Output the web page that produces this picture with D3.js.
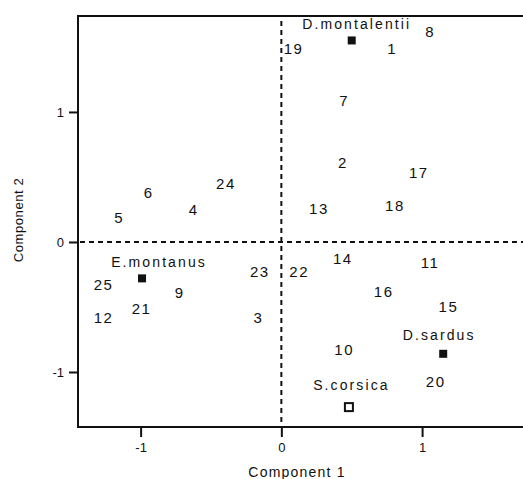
<!DOCTYPE html>
<html><head><meta charset="utf-8">
<script src="https://cdn.jsdelivr.net/npm/d3@7"></script>
<style>body{margin:0;background:#fff}svg{display:block}text{font-family:"Liberation Sans",Arial,sans-serif;fill:#111}</style>
</head><body>
<svg id="c" width="523" height="479"></svg>
<script>
// Case labels (numbers) with component scores
const caseLabels = ["1","2","3","4","5","6","7","8","9","10","11","12","13","14","15","16","17","18","19","20","21","22","23","24","25"];
const comp1 = [0.78,0.43,-0.17,-0.63,-1.16,-0.95,0.44,1.05,-0.73,0.44,1.05,-1.27,0.26,0.43,1.18,0.72,0.97,0.80,0.08,1.09,-1.00,0.12,-0.16,-0.40,-1.27];
const comp2 = [1.49,0.61,-0.58,0.25,0.19,0.38,1.09,1.62,-0.39,-0.83,-0.16,-0.58,0.26,-0.13,-0.50,-0.38,0.53,0.28,1.49,-1.07,-0.51,-0.23,-0.23,0.45,-0.33];
// Species centroids
const species = ["D.montalentii","E.montanus","D.sardus","S.corsica"];
const spX = [0.50,-0.99,1.15,0.48];
const spY = [1.55,-0.28,-0.86,-1.27];
const spFilled = [true,true,true,false];
const xTicks = [-1,0,1];
const yTicks = [-1,0,1];

const svg = d3.select("#c");
const L=78, T=16, B=427, R=560;
const x = d3.scaleLinear().domain([-1.445,1.98]).range([L,R]);
const y = d3.scaleLinear().domain([-1.423,1.738]).range([B,T]);

// frame
svg.append("line").attr("x1",L).attr("x2",L).attr("y1",T).attr("y2",B).attr("stroke","#111").attr("stroke-width",2);
svg.append("line").attr("x1",L-1).attr("x2",523).attr("y1",T).attr("y2",T).attr("stroke","#111").attr("stroke-width",2);
svg.append("line").attr("x1",L-1).attr("x2",523).attr("y1",B).attr("y2",B).attr("stroke","#111").attr("stroke-width",2);

// axes ticks
const gx = svg.append("g").attr("transform",`translate(0,${B})`)
  .call(d3.axisBottom(x).tickValues(xTicks).tickSize(10).tickPadding(6).tickFormat(d=>String(d)));
const gy = svg.append("g").attr("transform",`translate(${L},0)`)
  .call(d3.axisLeft(y).tickValues(yTicks).tickSize(9).tickPadding(5).tickFormat(d=>String(d)));
[gx,gy].forEach(g=>{
  g.select(".domain").remove();
  g.selectAll(".tick line").attr("stroke","#111").attr("stroke-width",2);
  g.selectAll(".tick text").attr("font-size",13).attr("fill","#111").attr("font-family","Liberation Sans, Arial, sans-serif");
});

// dashed reference lines
svg.append("line").attr("x1",L+2).attr("x2",523).attr("y1",y(0)).attr("y2",y(0))
  .attr("stroke","#111").attr("stroke-width",2).attr("stroke-dasharray","5,4");
svg.append("line").attr("x1",x(0)).attr("x2",x(0)).attr("y1",T+5).attr("y2",B)
  .attr("stroke","#111").attr("stroke-width",2).attr("stroke-dasharray","5,4");

// case labels
svg.append("g").selectAll("text").data(caseLabels).join("text")
  .attr("x",(d,i)=>x(comp1[i])+1).attr("y",(d,i)=>y(comp2[i]))
  .attr("text-anchor","middle").attr("dy","0.36em")
  .attr("font-size",15).attr("letter-spacing",1.6).text(d=>d);

// species markers
const sp = svg.append("g");
species.forEach((s,i)=>{
  const cx=x(spX[i]), cy=y(spY[i]);
  if(spFilled[i]) sp.append("rect").attr("x",cx-4).attr("y",cy-4).attr("width",8).attr("height",8).attr("fill","#111");
  else sp.append("rect").attr("x",cx-4).attr("y",cy-4).attr("width",8).attr("height",8).attr("fill","none").attr("stroke","#111").attr("stroke-width",2);
});
// species labels (offsets relative to marker)
const spDx=[5,17,-4,2.5], spDy=[-16.5,-16,-19,-22];
species.forEach((s,i)=>{
  sp.append("text").attr("x",x(spX[i])+spDx[i]).attr("y",y(spY[i])+spDy[i]).attr("dy","0.36em")
    .attr("text-anchor","middle").attr("font-size",14).attr("letter-spacing",2.1).text(s);
});

// axis titles
svg.append("text").attr("x",297).attr("y",477).attr("text-anchor","middle").attr("font-size",14).attr("letter-spacing",1.2).text("Component  1");
svg.append("text").attr("transform","translate(23,220) rotate(-90)").attr("text-anchor","middle").attr("font-size",13).attr("letter-spacing",0.6).text("Component  2");
</script>
</body></html>
